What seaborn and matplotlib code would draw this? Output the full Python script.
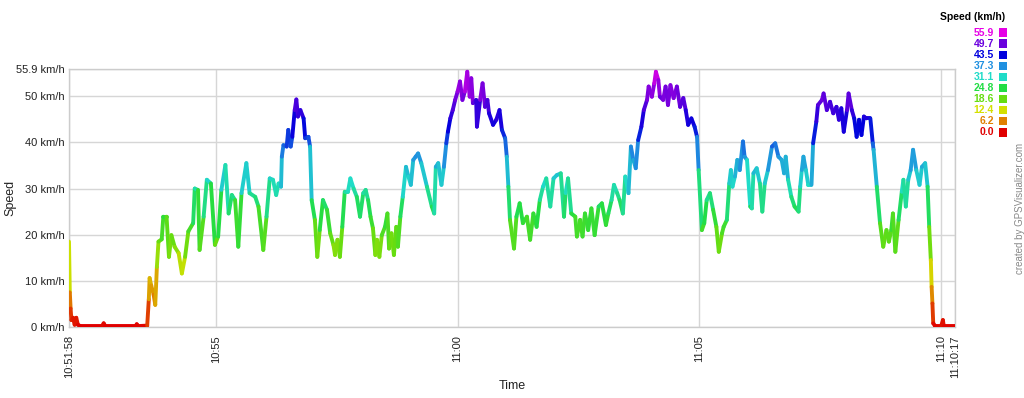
import numpy as np
import seaborn as sns
import matplotlib
matplotlib.use("Agg")
import matplotlib.pyplot as plt
from matplotlib.collections import LineCollection
from matplotlib.colors import LinearSegmentedColormap, Normalize
from matplotlib.patches import Rectangle

# Data: seconds since 10:51:58 and speed in km/h
time_s = [
    0, 1, 2, 3, 5, 7, 9, 11, 14, 41,
    43, 45, 83, 84, 86, 97, 99, 100, 102, 105,
    107, 109, 111, 115, 117, 121, 124, 127, 131, 136,
    140, 144, 148, 154, 156, 160, 162, 167, 171, 176,
    181, 185, 189, 194, 198, 202, 206, 210, 214, 220,
    224, 231, 235, 241, 245, 249, 253, 257, 260, 263,
    264, 266, 270, 272, 275, 277, 280, 282, 284, 287,
    291, 293, 297, 299, 301, 305, 308, 311, 315, 320,
    324, 328, 330, 333, 336, 339, 342, 346, 349, 353,
    357, 361, 365, 368, 371, 374, 377, 380, 382, 385,
    388, 392, 395, 397, 400, 403, 406, 408, 411, 414,
    418, 421, 424, 427, 430, 433, 437, 444, 450, 453,
    455, 458, 462, 465, 468, 470, 473, 476, 479, 482,
    485, 488, 491, 494, 497, 499, 501, 505, 506, 510,
    513, 516, 519, 521, 526, 530, 534, 537, 541, 543,
    545, 547, 552, 555, 559, 563, 568, 572, 576, 580,
    584, 588, 592, 597, 601, 605, 610, 614, 616, 619,
    623, 628, 630, 634, 637, 640, 644, 648, 652, 657,
    661, 666, 669, 673, 676, 680, 683, 687, 690, 694,
    697, 700, 703, 706, 710, 713, 717, 719, 723, 726,
    728, 731, 733, 737, 740, 743, 746, 750, 754, 758,
    762, 765, 768, 772, 776, 779, 781, 785, 788, 791,
    795, 799, 803, 806, 810, 812, 816, 819, 821, 823,
    826, 829, 832, 836, 838, 841, 845, 847, 849, 853,
    857, 860, 863, 867, 872, 876, 880, 884, 887, 889,
    892, 896, 900, 905, 907, 909, 911, 914, 917, 921,
    923, 927, 929, 934, 936, 940, 944, 948, 952, 955,
    958, 961, 965, 967, 971, 974, 977, 980, 983, 986,
    989, 994, 997, 998, 1002, 1006, 1010, 1014, 1017, 1020,
    1022, 1025, 1029, 1033, 1035, 1038, 1041, 1044, 1047, 1051,
    1055, 1058, 1062, 1065, 1067, 1069, 1070, 1071, 1072, 1074,
    1082, 1084, 1085, 1099,
]
speed_kmh = [
    18.5, 7.5, 4.0, 1.5, 2.0, 0.5, 2.0, 0.5, 0.2, 0.2,
    0.8, 0.2, 0.2, 0.6, 0.2, 0.3, 6.0, 10.6, 9.0, 7.0,
    4.8, 13.0, 18.5, 19.0, 23.9, 23.9, 15.2, 19.9, 17.4, 16.0,
    11.6, 15.2, 20.7, 22.5, 30.0, 29.7, 16.7, 23.9, 31.9, 31.1,
    17.8, 19.6, 29.7, 35.1, 24.6, 28.6, 27.5, 17.4, 29.0, 35.5,
    29.0, 28.2, 26.1, 16.7, 23.9, 32.2, 31.9, 28.6, 31.1, 30.4,
    36.9, 39.4, 39.1, 42.7, 39.1, 41.2, 47.0, 49.3, 45.6, 47.0,
    45.2, 40.9, 41.2, 39.1, 27.5, 23.2, 15.2, 21.0, 27.5, 25.4,
    20.3, 17.8, 15.6, 18.9, 15.2, 21.7, 29.3, 29.3, 32.2, 30.0,
    28.2, 23.9, 29.0, 29.7, 27.5, 23.9, 21.4, 15.6, 18.9, 15.2,
    19.9, 21.7, 24.6, 17.0, 20.3, 15.6, 21.7, 17.4, 23.9, 28.2,
    34.7, 32.6, 30.8, 36.2, 36.9, 37.6, 35.5, 30.4, 26.1, 24.6,
    34.7, 35.5, 30.8, 34.7, 39.8, 42.3, 45.2, 47.0, 49.2, 51.0,
    53.2, 49.2, 51.0, 55.3, 49.9, 53.9, 48.5, 49.2, 43.4, 49.2,
    52.8, 47.7, 49.2, 46.3, 43.8, 44.9, 47.0, 42.7, 40.9, 36.9,
    30.4, 23.2, 17.0, 23.9, 26.8, 22.5, 23.9, 18.9, 24.6, 21.7,
    27.5, 30.4, 32.2, 26.1, 32.2, 32.9, 33.3, 23.9, 29.0, 32.2,
    24.6, 23.9, 19.6, 23.2, 19.6, 24.6, 21.0, 25.7, 19.9, 26.1,
    26.8, 22.1, 24.6, 27.5, 30.8, 29.0, 27.5, 24.6, 32.6, 29.0,
    39.1, 36.2, 34.4, 40.5, 43.4, 47.0, 49.2, 52.1, 49.9, 52.8,
    55.3, 53.5, 49.9, 49.2, 52.1, 48.1, 52.4, 49.6, 52.1, 47.7,
    49.6, 47.0, 43.8, 45.2, 43.4, 41.2, 34.0, 21.0, 22.5, 27.5,
    29.0, 25.4, 21.7, 16.3, 20.3, 21.7, 23.2, 31.1, 34.0, 30.4,
    32.6, 36.2, 34.0, 40.2, 36.9, 36.2, 26.1, 25.7, 33.3, 34.4,
    31.1, 25.0, 31.1, 34.0, 39.1, 39.8, 36.9, 36.2, 33.3, 36.9,
    31.9, 28.2, 26.1, 25.0, 30.4, 34.0, 36.9, 34.0, 30.8, 30.8,
    39.8, 44.5, 48.1, 49.2, 50.6, 47.0, 48.8, 46.3, 47.7, 44.9,
    47.4, 42.3, 47.0, 50.6, 47.0, 45.2, 41.2, 44.9, 41.6, 45.6,
    45.2, 45.2, 39.8, 38.4, 30.4, 22.5, 17.4, 21.0, 18.5, 21.0,
    24.6, 16.3, 23.2, 29.3, 31.9, 26.1, 31.9, 34.0, 38.4, 34.0,
    30.8, 34.7, 35.5, 30.4, 21.7, 14.5, 8.7, 5.1, 0.8, 0.3,
    0.3, 1.5, 0.3, 0.3,
]

# colour scale (legend)
legend_levels = [0.0, 6.2, 12.4, 18.6, 24.8, 31.1, 37.3, 43.5, 49.7, 55.9]
legend_colors = ["#e00000", "#e08000", "#d4e000", "#66dd11", "#22dd44",
                 "#20dcc8", "#2090e0", "#0000dd", "#6a00dd", "#e600e6"]
speed_max = 55.9

# axis ticks
xtick_pos = [0, 182, 482, 782, 1082, 1099]
xtick_labels = ["10:51:58", "10:55", "11:00", "11:05", "11:10", "11:10:17"]
ytick_pos = [0, 10, 20, 30, 40, 50, 55.9]
ytick_labels = ["0 km/h", "10 km/h", "20 km/h", "30 km/h", "40 km/h", "50 km/h", "55.9 km/h"]

sns.set_theme(style="whitegrid")
plt.rcParams["font.family"] = ["Liberation Sans", "DejaVu Sans"]

cmap = LinearSegmentedColormap.from_list(
    "speed", list(zip(np.array(legend_levels) / speed_max, legend_colors)))
norm = Normalize(0, speed_max)

fig = plt.figure(figsize=(10.24, 3.98), dpi=100)
ax = fig.add_axes([69 / 1024, 71 / 398, 886 / 1024, 258 / 398])

t = np.array(time_s, dtype=float)
v = np.array(speed_kmh, dtype=float)
pts = np.column_stack([t, v])
segs = np.stack([pts[:-1], pts[1:]], axis=1)
lc = LineCollection(segs, colors=cmap(norm((v[:-1] + v[1:]) / 2)),
                    linewidths=2.8, capstyle="round", joinstyle="round", zorder=3)
ax.add_collection(lc)

ax.set_xlim(0, 1099)
ax.set_ylim(0, speed_max)
ax.set_xticks(xtick_pos)
ax.set_xticklabels(xtick_labels, rotation=90, fontsize=8, color="#222222")
ax.set_yticks(ytick_pos)
ax.set_yticklabels(ytick_labels, fontsize=8, color="#222222")
ax.tick_params(axis="x", length=0, pad=6)
ax.tick_params(axis="y", length=0, pad=3)
ax.grid(True, color="#d6d6d6", linewidth=1)
for s in ax.spines.values():
    s.set_color("#cccccc")
    s.set_linewidth(1)
ax.set_xlabel("Time", fontsize=9, color="#222222")
ax.set_ylabel("Speed", fontsize=9, color="#222222")
ax.xaxis.set_label_coords(0.5, -0.205)
ax.yaxis.set_label_coords(-0.059, 0.5)

# legend on the right
W, H = 1024, 398
fig.text(1005 / W, 1 - 17 / H, "Speed (km/h)", ha="right", va="center",
         fontsize=7.5, fontweight="bold", color="black")
for i, (lvl, col) in enumerate(zip(legend_levels[::-1], legend_colors[::-1])):
    yc = 32.7 + i * 11.07
    fig.text(994 / W, 1 - yc / H, f"{lvl:.1f}", ha="right", va="center",
             fontsize=7.5, fontweight="bold", color=col)
    fig.add_artist(Rectangle((998.5 / W, 1 - (yc + 4.2) / H), 8.5 / W, 8.5 / H,
                             transform=fig.transFigure, color=col, lw=0))
fig.text(1020 / W, 1 - 208 / H, "created by GPSVisualizer.com", rotation=90,
         ha="center", va="center", fontsize=7, color="#888888")

fig.savefig("out.png", dpi=100)
